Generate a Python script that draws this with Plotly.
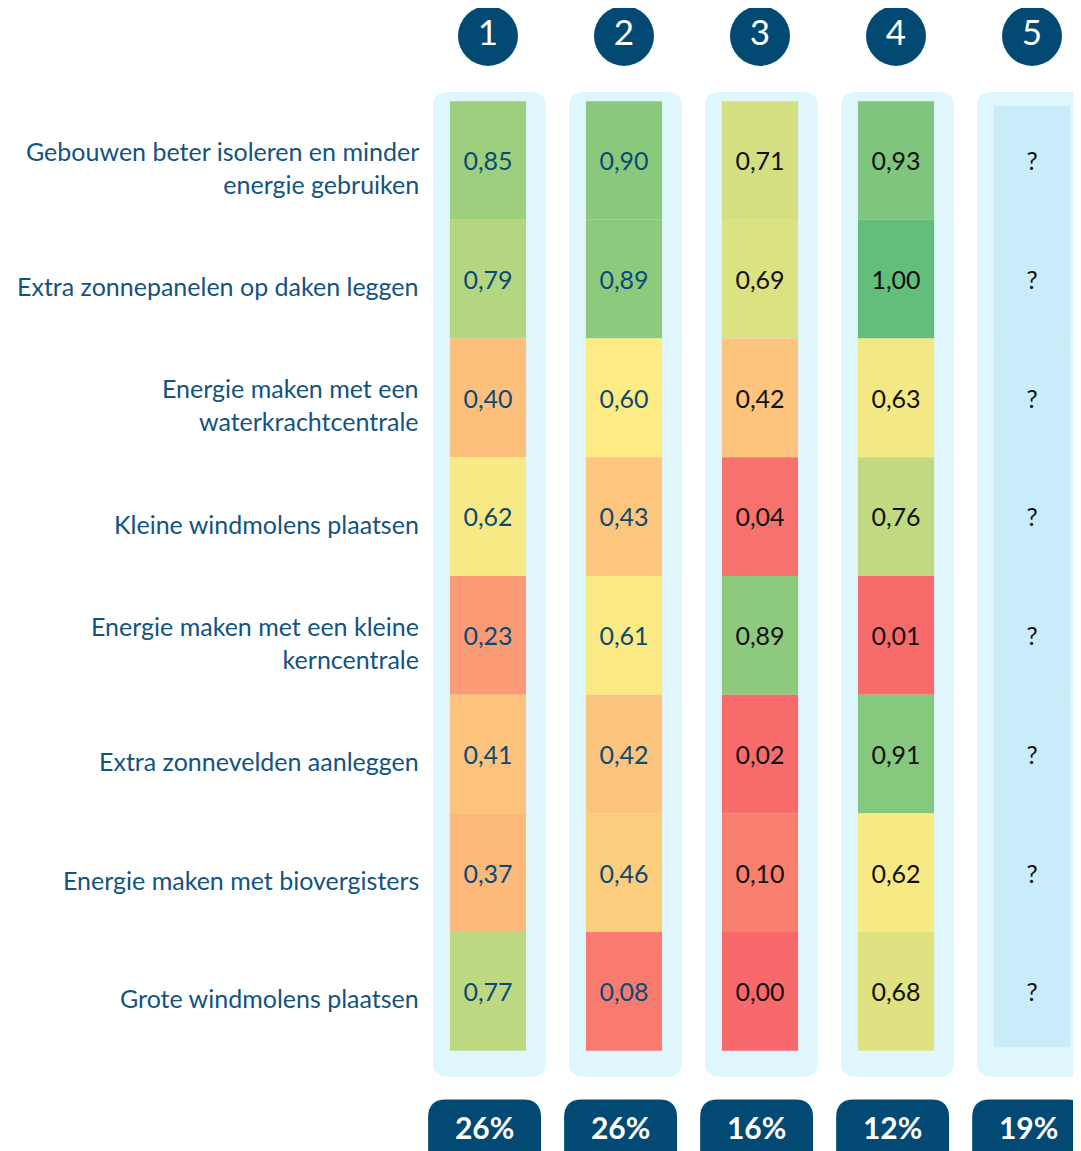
import plotly.graph_objects as go

criteria = [
    "Gebouwen beter isoleren en minder<br>energie gebruiken",
    "Extra zonnepanelen op daken leggen",
    "Energie maken met een<br>waterkrachtcentrale",
    "Kleine windmolens plaatsen",
    "Energie maken met een kleine<br>kerncentrale",
    "Extra zonnevelden aanleggen",
    "Energie maken met biovergisters",
    "Grote windmolens plaatsen",
]
groups = ["1", "2", "3", "4", "5"]
scores_1 = [0.85, 0.79, 0.40, 0.62, 0.23, 0.41, 0.37, 0.77]
scores_2 = [0.90, 0.89, 0.60, 0.43, 0.61, 0.42, 0.46, 0.08]
scores_3 = [0.71, 0.69, 0.42, 0.04, 0.89, 0.02, 0.10, 0.00]
scores_4 = [0.93, 1.00, 0.63, 0.76, 0.01, 0.91, 0.62, 0.68]
scores_5 = [None] * 8
shares = ["26%", "26%", "16%", "12%", "19%"]

all_scores = [scores_1, scores_2, scores_3, scores_4, scores_5]
text_colors = ["#0B4A75", "#0B4A75", "#111111", "#111111", "#111111"]

NAVY = "#024A74"
PANEL = "#E0F6FD"
Q_CELL = "#C9ECFA"
LABEL = "#13537F"
FONT = "Lato"

cs = [[0.0, "#F8696B"], [0.6, "#FFEB84"], [1.0, "#63BE7B"]]

rows = list(range(len(criteria)))
n = len(rows)
fig = go.Figure()


def rpath(x0, x1, y0, y1, rx, ry):
    return (f"M {x0+rx},{y0} L {x1-rx},{y0} Q {x1},{y0} {x1},{y0+ry} "
            f"L {x1},{y1-ry} Q {x1},{y1} {x1-rx},{y1} L {x0+rx},{y1} "
            f"Q {x0},{y1} {x0},{y1-ry} L {x0},{y0+ry} Q {x0},{y0} {x0+rx},{y0} Z")


shapes = []
for i, g in enumerate(groups):
    # panel background
    shapes.append(dict(type="path", xref="x", yref="y", layer="below",
                       path=rpath(i - 0.405, i + 0.425, -0.577, 7.72, 0.11, 0.125),
                       fillcolor=PANEL, line=dict(width=0)))
    # bottom pill
    shapes.append(dict(type="path", xref="x", yref="y", layer="below",
                       path=rpath(i - 0.44, i + 0.39, 7.911, 8.8, 0.13, 0.15),
                       fillcolor=NAVY, line=dict(width=0)))

for i, vals in enumerate(all_scores):
    if vals[0] is None:
        bases = [r - 0.5 for r in rows]
        heights = [1.0] * n
        bases[0] += 0.04
        heights[0] -= 0.04
        heights[-1] -= 0.03
        fig.add_trace(go.Bar(x=[i] * n, y=heights, base=bases,
                             width=0.56, marker=dict(color=Q_CELL, line=dict(width=0)),
                             hoverinfo="skip", showlegend=False))
        txt = ["?"] * n
    else:
        fig.add_trace(go.Bar(x=[i] * n, y=[1] * n,
                             base=[r - 0.5 for r in rows], width=0.56,
                             marker=dict(color=vals, colorscale=cs, cmin=0, cmax=1,
                                         line=dict(width=0)),
                             hoverinfo="skip", showlegend=False))
        txt = [f"{v:.2f}".replace(".", ",") for v in vals]
    fig.add_trace(go.Scatter(x=[i] * n, y=[r + 0.03 for r in rows], mode="text", text=txt,
                             textfont=dict(family=FONT, size=25, color=text_colors[i]),
                             hoverinfo="skip", showlegend=False))

# header circles
fig.add_trace(go.Scatter(x=list(range(len(groups))), y=[-1.05] * len(groups),
                         mode="markers+text", text=groups,
                         marker=dict(size=60, color=NAVY, line=dict(width=0)),
                         textfont=dict(family=FONT, size=35, color="white"),
                         textposition="middle center",
                         hoverinfo="skip", showlegend=False))

# bottom shares
fig.add_trace(go.Scatter(x=[i - 0.025 for i in range(len(groups))], y=[8.18] * len(groups),
                         mode="text", text=[f"<b>{s}</b>" for s in shares],
                         textfont=dict(family=FONT, size=30, color="white"),
                         hoverinfo="skip", showlegend=False))

annotations = []
for r, lab in zip(rows, criteria):
    annotations.append(dict(x=-0.493, y=r, xref="x", yref="y", text=lab,
                            xanchor="right", yanchor="middle", align="right",
                            yshift=-7, showarrow=False,
                            font=dict(family=FONT, size=25, color=LABEL)))

# page body has an 8px margin on top/left; ranges compensate for it
fig.update_layout(
    width=1081, height=1151,
    margin=dict(l=0, r=0, t=0, b=0),
    paper_bgcolor="white", plot_bgcolor="white",
    barmode="overlay",
    shapes=shapes, annotations=annotations,
    xaxis=dict(range=[-3.529, 4.419], visible=False, fixedrange=True),
    yaxis=dict(range=[8.412, -1.285], visible=False, fixedrange=True),
    showlegend=False,
)

fig.write_html("out.html",
               post_script="document.documentElement.style.overflow='hidden';"
                           "document.body.style.overflow='hidden';")
